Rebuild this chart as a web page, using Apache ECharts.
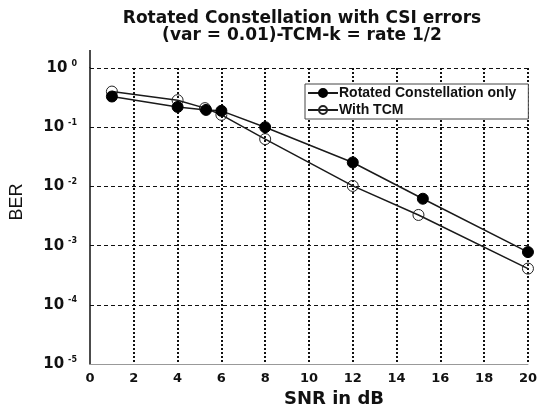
<!DOCTYPE html>
<html><head><meta charset="utf-8">
<script src="https://cdn.jsdelivr.net/npm/echarts@6/dist/echarts.min.js"></script>
<style>html,body{margin:0;padding:0;background:#fff}#c{width:540px;height:413px}</style>
</head><body><div id="c"></div>
<script>
var titleLines = ['Rotated Constellation with CSI errors', '(var = 0.01)-TCM-k = rate 1/2'];
var seriesNames = ['Rotated Constellation only', 'With TCM'];
var snrA = [1, 4, 5.3, 6, 8, 12, 15.2, 20];
var berA = [0.33, 0.22, 0.196, 0.189, 0.1, 0.0254, 0.0062, 0.00078];
var snrB = [1, 4, 5.25, 6, 8, 12, 15, 20];
var berB = [0.40, 0.286, 0.21, 0.162, 0.063, 0.0102, 0.0033, 0.00041];
var xTicks = [0, 2, 4, 6, 8, 10, 12, 14, 16, 18, 20];
var xName = 'SNR in dB';
var yName = 'BER';

function pairs(xs, ys) { return xs.map(function (x, i) { return [x, ys[i]]; }); }
var FONT = '"Liberation Sans", Arial, sans-serif';
var HEAVY = '"DejaVu Sans", sans-serif';
var chart = echarts.init(document.getElementById('c'), null, {renderer: 'canvas'});
var option = {
  animation: false,
  backgroundColor: '#fff',
  title: {
    text: titleLines.join('\n'),
    left: 297, top: 5, textAlign: 'center',
    textStyle: {fontFamily: HEAVY, fontWeight: 'bold', fontSize: 17, lineHeight: 17, color: '#111'}
  },
  grid: {left: 87.5, right: 10, top: 68, bottom: 41},
  legend: {
    left: 305, top: 84, orient: 'vertical',
    backgroundColor: '#fff', borderColor: '#444', borderWidth: 1, borderRadius: 0,
    padding: [2, 12, 2, 2], itemGap: 3, itemWidth: 30, itemHeight: 10,
    textStyle: {fontFamily: FONT, fontWeight: 'bold', fontSize: 14, color: '#111', padding: [0, 0, 0, -4]},
    data: seriesNames
  },
  xAxis: {
    type: 'value', min: xTicks[0], max: xTicks[xTicks.length - 1], interval: 2,
    name: xName, nameLocation: 'middle', nameGap: 24,
    nameTextStyle: {fontFamily: HEAVY, fontWeight: 'bold', fontSize: 18, color: '#111', padding: [0, 0, 0, 50]},
    axisLine: {lineStyle: {color: '#999', width: 1}},
    axisTick: {show: false},
    axisLabel: {fontFamily: HEAVY, fontWeight: 'bold', fontSize: 13, color: '#111', margin: 8},
    splitLine: {show: true, showMinLine: false, lineStyle: {color: '#111', type: [2, 2], width: 2}}
  },
  yAxis: {
    type: 'log', logBase: 10, min: 1e-5, max: 1,
    name: yName, nameLocation: 'middle', nameGap: 64,
    nameTextStyle: {fontFamily: FONT, fontSize: 18, color: '#111', padding: [0, 0, 0, 28]},
    axisLine: {show: true, lineStyle: {color: '#111', width: 1.5}},
    axisTick: {show: false},
    axisLabel: {
      margin: 13,
      formatter: function (v) {
        var e = Math.round(Math.log10(v));
        return '{b|10}{s|' + (e === 0 ? '0' : e) + '}';
      },
      rich: {
        b: {fontFamily: HEAVY, fontWeight: 'bold', fontSize: 15, color: '#111'},
        s: {fontFamily: HEAVY, fontWeight: 'bold', fontSize: 8, color: '#111', padding: [0, 0, 9, 4]}
      }
    },
    splitLine: {show: true, lineStyle: {color: '#111', type: [4, 3], width: 1}}
  },
  series: [
    {
      name: seriesNames[0], type: 'line', data: pairs(snrA, berA),
      symbol: 'circle', symbolSize: 11,
      lineStyle: {color: '#1a1a1a', width: 1.5},
      itemStyle: {color: '#000', borderColor: '#000', borderWidth: 1},
      z: 3
    },
    {
      name: seriesNames[1], type: 'line', data: pairs(snrB, berB),
      symbol: 'circle', symbolSize: 11,
      lineStyle: {color: '#1a1a1a', width: 1.5},
      itemStyle: {color: 'rgba(255,255,255,0)', borderColor: '#222', borderWidth: 1},
      z: 2
    }
  ]
};
chart.setOption(option);
var px0 = chart.convertToPixel({xAxisIndex: 0}, 0);
var pyTop = chart.convertToPixel({yAxisIndex: 0}, 1);
chart.setOption({
  graphic: [{type: 'line', shape: {x1: px0, y1: pyTop - 18, x2: px0, y2: pyTop}, style: {stroke: '#111', lineWidth: 1.5}, silent: true}]
});
</script></body></html>
